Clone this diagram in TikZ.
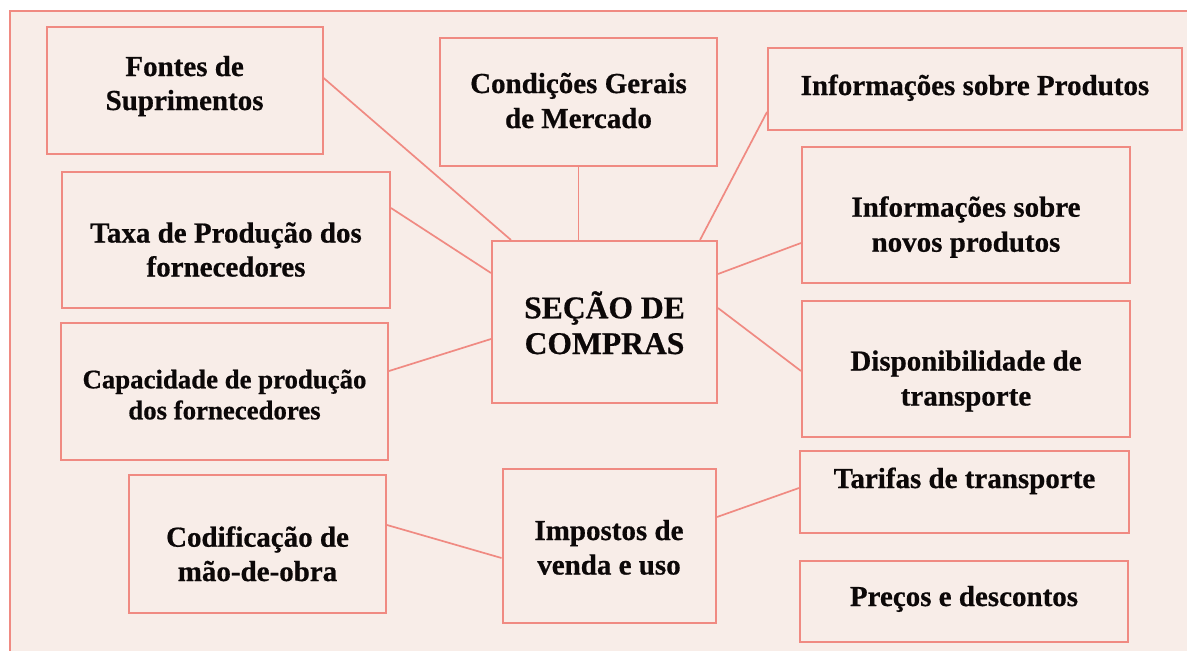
\documentclass[tikz,border=0pt]{standalone}
\usepackage{fontspec}
\setmainfont{Liberation Serif}
\newfontfamily\heavyfont{Liberation Serif Bold}[FakeBold=0.6]
\definecolor{bgc}{HTML}{F8EDE8}
\definecolor{linec}{HTML}{F08A82}
\definecolor{txtc}{HTML}{0C0808}
\begin{document}
\begin{tikzpicture}[x=1pt,y=-1pt,
  bx/.style={draw=linec,line width=2pt,rectangle,inner sep=0pt},
  ln/.style={draw=linec,line width=1.7pt},
  tl/.style={anchor=base,inner sep=0pt,text=txtc,font=\heavyfont\fontsize{29}{34}\selectfont},
  ts/.style={anchor=base,inner sep=0pt,text=txtc,font=\heavyfont\fontsize{26.8}{31}\selectfont},
  tb/.style={anchor=base,inner sep=0pt,text=txtc,font=\heavyfont\fontsize{31.6}{37}\selectfont}]
\useasboundingbox (0,0) rectangle (1187,651);
\fill[white] (0,0) rectangle (1187,651);
\fill[bgc] (10,11) rectangle (1187,651);
\draw[linec,line width=1.7pt] (1187,11) -- (10,11) -- (10,651);
% boxes
\node[bx,minimum width=276pt,minimum height=127pt] (fontes) at (184.6,90.5) {};
\node[bx,minimum width=277pt,minimum height=128pt] (cond) at (578.5,102) {};
\node[bx,minimum width=414pt,minimum height=82pt] (infoprod) at (975,89) {};
\node[bx,minimum width=328pt,minimum height=136pt] (taxa) at (226,240) {};
\node[bx,minimum width=225pt,minimum height=162pt] (secao) at (604.5,322) {};
\node[bx,minimum width=328pt,minimum height=136pt] (infonov) at (966,215) {};
\node[bx,minimum width=328pt,minimum height=136pt] (disp) at (966,369) {};
\node[bx,minimum width=327pt,minimum height=137pt] (capac) at (224.5,391.5) {};
\node[bx,minimum width=257pt,minimum height=138pt] (codif) at (257.5,544) {};
\node[bx,minimum width=213.5pt,minimum height=154pt] (impost) at (609.25,546) {};
\node[bx,minimum width=329pt,minimum height=82pt] (tarif) at (964.5,492) {};
\node[bx,minimum width=328pt,minimum height=81pt] (precos) at (964,601.5) {};
% connectors
\draw[ln] ([yshift=12.5pt]fontes.east) -- ([xshift=-93.5pt]secao.north);
\draw[ln] ([yshift=32pt]taxa.east) -- ([yshift=49pt]secao.west);
\draw[ln] (cond.south) -- (cond.south |- secao.north);
\draw[ln] ([yshift=-23pt]infoprod.west) -- ([xshift=95.5pt]secao.north);
\draw[ln] ([yshift=48pt]secao.east) -- ([yshift=-28pt]infonov.west);
\draw[ln] ([yshift=14pt]secao.east) -- ([yshift=-2pt]disp.west);
\draw[ln] ([yshift=20.5pt]capac.east) -- ([yshift=-17pt]secao.west);
\draw[ln] ([yshift=19pt]codif.east) -- ([yshift=-12pt]impost.west);
\draw[ln] ([yshift=29pt]impost.east) -- ([yshift=4pt]tarif.west);
% texts
\node[tl] (fontesA) at (184.6,76) {Fontes de};
\node[tl] (fontesB) at (184.6,110) {Suprimentos};
\node[tl] (condA) at (578.5,93) {Condições Gerais};
\node[tl] (condB) at (578.5,128) {de Mercado};
\node[tl] (infoprodA) at (975,95) {Informações sobre Produtos};
\node[tl] (taxaA) at (226,242.5) {Taxa de Produção dos};
\node[tl] (taxaB) at (226,276.5) {fornecedores};
\node[tb] (secaoA) at (604.5,318.3) {SEÇÃO DE};
\node[tb] (secaoB) at (604.5,354) {COMPRAS};
\node[tl] (infonovA) at (966,216.7) {Informações sobre};
\node[tl] (infonovB) at (966,251.7) {novos produtos};
\node[tl] (dispA) at (966,370.5) {Disponibilidade de};
\node[tl] (dispB) at (966,405.5) {transporte};
\node[ts] (capacA) at (224.5,388.3) {Capacidade de produção};
\node[ts] (capacB) at (224.5,419.3) {dos fornecedores};
\node[tl] (codifA) at (257.5,546.7) {Codificação de};
\node[tl] (codifB) at (257.5,581) {mão-de-obra};
\node[tl] (impostA) at (609,540) {Impostos de};
\node[tl] (impostB) at (609,574.5) {venda e uso};
\node[tl] (tarifA) at (964.5,488) {Tarifas de transporte};
\node[tl] (precosA) at (964,606) {Preços e descontos};
\end{tikzpicture}
\end{document}
